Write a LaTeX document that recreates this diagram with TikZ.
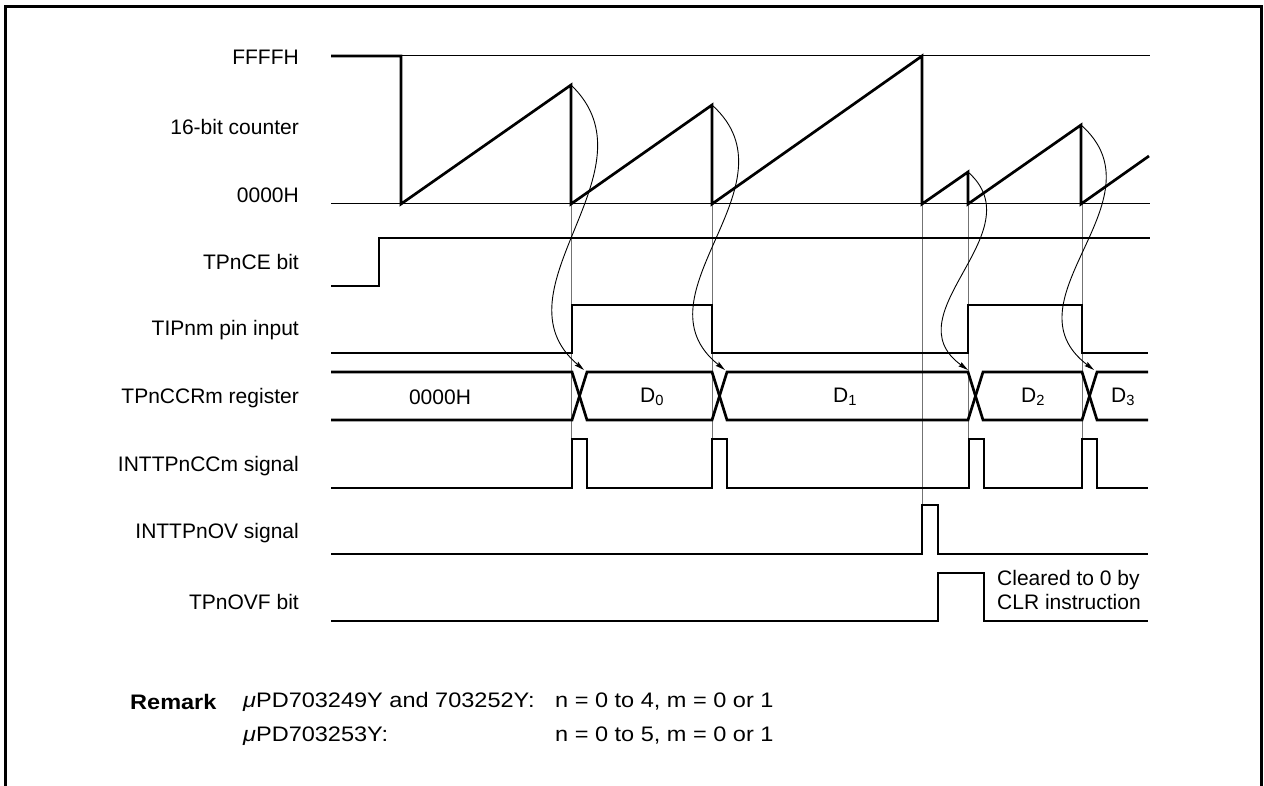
\documentclass[tikz,border=0pt]{standalone}
\usepackage{fontspec}
\setmainfont{Liberation Sans}
\newfontfamily\remfont[FakeStretch=1.12]{Liberation Sans}
\usetikzlibrary{arrows.meta}
\tikzset{
  sig/.style={line width=2.7pt, line join=miter, line cap=butt},
  thinline/.style={line width=1pt},
  guide/.style={line width=1pt, draw=black!55},
  curvearrow/.style={line width=0.9pt, -{Stealth[length=10pt,width=5pt,inset=1.5pt]}},
  lbl/.style={anchor=east, inner sep=0pt, font=\fontsize{21}{24}\selectfont},
  val/.style={inner sep=0pt, font=\fontsize{21}{24}\selectfont},
  note/.style={anchor=west, inner sep=0pt, align=left, font=\fontsize{21}{24}\selectfont},
  rem/.style={anchor=west, inner sep=0pt, font=\remfont\fontsize{21}{24}\selectfont},
  frame/.style={line width=3.3pt}
}
\begin{document}
\begin{tikzpicture}[x=1pt,y=-1pt]
\useasboundingbox (0,0) rectangle (1264,786);
% frame
\draw[frame] (5.5,792) -- (5.5,6.5) -- (1261.5,6.5) -- (1261.5,792);

% labels
\node[lbl] (lF) at (299,57) {FFFFH};
\node[lbl] (lC) at (299,127) {16-bit counter};
\node[lbl] (l0) at (299,195) {0000H};
\node[lbl] (lCE) at (299,262) {TPnCE bit};
\node[lbl] (lTI) at (299,330) {TIPnm pin input};
\node[lbl] (lCR) at (299,398) {TPnCCRm register};
\node[lbl] (lCC) at (299,466) {INTTPnCCm signal};
\node[lbl] (lOV) at (299,533) {INTTPnOV signal};
\node[lbl] (lOF) at (299,602) {TPnOVF bit};

% reference levels
\draw[thinline] (401,56) -- (1150,56);
\draw[thinline] (331,204) -- (1150,204);

% guide lines
\draw[guide] (571,204) -- (571,439);
\draw[guide] (712,204) -- (712,439);
\draw[guide] (968,204) -- (968,439);
\draw[guide] (1082,204) -- (1082,439);
\draw[guide] (922,204) -- (922,505);

% counter
\coordinate (p1) at (571,85);
\coordinate (p2) at (712,105);
\coordinate (p3) at (968,172);
\coordinate (p4) at (1081,125);
\draw[sig] (331,56) -- (401,56) -- (401,204) -- (p1) -- (571,204) -- (p2) -- (712,204)
  -- (922,56) -- (922,204) -- (p3) -- (968,204) -- (p4) -- (1081,204) -- (1149,156);

% TPnCE bit
\draw[sig] (331,286) -- (379,286) -- (379,238) -- (1150,238);

% TIPnm pin input
\draw[sig] (331,353) -- (572,353) -- (572,305) -- (712,305) -- (712,353) -- (968,353)
  -- (968,305) -- (1082,305) -- (1082,353) -- (1148,353);

% TPnCCRm register
\draw[sig] (331,372) -- (572,372) -- (587,420) -- (712,420) -- (727,372) -- (968,372)
  -- (983,420) -- (1082,420) -- (1097,372) -- (1148,372);
\draw[sig] (331,420) -- (572,420) -- (587,372) -- (712,372) -- (727,420) -- (968,420)
  -- (983,372) -- (1082,372) -- (1097,420) -- (1148,420);
\node[val] (v0) at (440,397) {0000H};
\node[val] (vD0) at (652,397) {D\textsubscript{0}};
\node[val] (vD1) at (845,397) {D\textsubscript{1}};
\node[val] (vD2) at (1033,397) {D\textsubscript{2}};
\node[val] (vD3) at (1123,397) {D\textsubscript{3}};

% INTTPnCCm signal
\draw[sig] (331,488) -- (572,488) -- (572,439) -- (587,439) -- (587,488) -- (712,488)
  -- (712,439) -- (727,439) -- (727,488) -- (969,488) -- (969,439) -- (984,439) -- (984,488)
  -- (1082,488) -- (1082,439) -- (1097,439) -- (1097,488) -- (1148,488);

% INTTPnOV signal
\draw[sig] (331,554) -- (922,554) -- (922,505) -- (938,505) -- (938,554) -- (1148,554);

% TPnOVF bit
\draw[sig] (331,621) -- (938,621) -- (938,573) -- (984,573) -- (984,621) -- (1148,621);
\node[note] (clr) at (997,590) {Cleared to 0 by\\CLR instruction};

% capture arrows
\coordinate (t1) at (584,370);
\coordinate (t2) at (725,370);
\coordinate (t3) at (968,370);
\coordinate (t4) at (1094,370);
\draw[curvearrow] (p1) .. controls +(89,85) and +(-94,-80) .. (t1);
\draw[curvearrow] (p2) .. controls +(89,80) and +(-94,-75) .. (t2);
\draw[curvearrow] (p3) .. controls +(68,60) and +(-78,-56) .. (t3);
\draw[curvearrow] (p4) .. controls +(85,75) and +(-92,-70) .. (t4);

% remark
\node[rem, font=\remfont\fontsize{21}{24}\selectfont\bfseries] (rk) at (130,702) {Remark};
\node[rem] (r1a) at (243,702) {{\itshape μ}PD703249Y and 703252Y:};
\node[rem] (r1b) at (555,702) {n = 0 to 4, m = 0 or 1};
\node[rem] (r2a) at (243,736) {{\itshape μ}PD703253Y:};
\node[rem] (r2b) at (555,736) {n = 0 to 5, m = 0 or 1};
\end{tikzpicture}
\end{document}
